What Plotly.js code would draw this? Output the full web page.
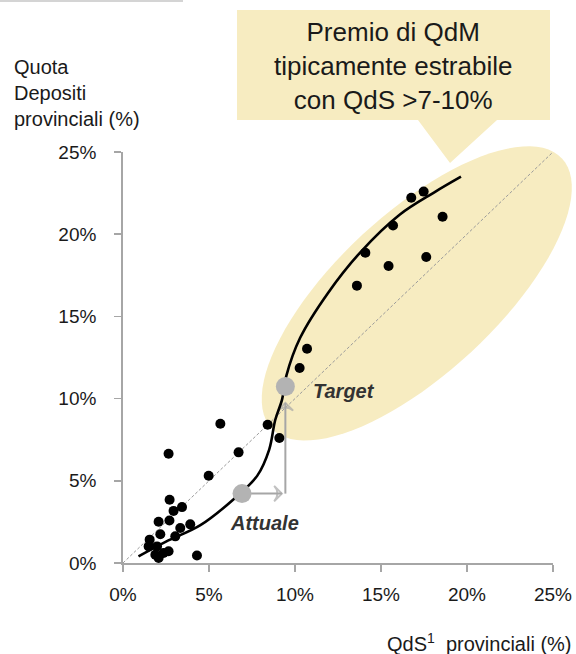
<!DOCTYPE html>
<html>
<head>
<meta charset="utf-8">
<script src="https://cdn.plot.ly/plotly-3.0.1.min.js"></script>
<style>
  html, body { margin: 0; padding: 0; background: #ffffff; }
  #chart { width: 576px; height: 654px; }
</style>
</head>
<body>
<div id="chart"></div>
<script>
// Province scatter: market share of deposits vs branch share (QdS), in %
const provinceQdS = [
  16.76, 17.48, 18.58, 15.70, 14.09, 15.44, 17.63, 13.60, 10.70, 10.27,
  5.66, 8.41, 9.09, 6.72, 4.98, 2.65, 4.30,
  2.71, 3.43, 2.94, 2.07, 2.70, 3.91, 3.33, 3.04, 1.55, 2.17, 1.49, 1.98, 1.88, 2.36, 2.65, 2.07
];
const provinceDeposits = [
  22.22, 22.59, 21.06, 20.53, 18.87, 18.07, 18.61, 16.87, 13.03, 11.86,
  8.47, 8.41, 7.60, 6.73, 5.31, 6.65, 0.46,
  3.85, 3.40, 3.17, 2.51, 2.58, 2.35, 2.13, 1.62, 1.42, 1.75, 1.01, 1.01, 0.50, 0.61, 0.71, 0.30
];

// Fitted S-shaped trend
const trendX = [0.9, 2.5, 4.5, 6.4, 7.8, 8.5, 8.85, 9.25, 9.5, 10.3, 11.9, 13.8, 16.1, 18.1, 19.65];
const trendY = [0.4, 1.3, 2.3, 3.85, 5.3, 6.9, 8.7, 9.95, 11.4, 13.7, 16.4, 18.9, 21.2, 22.55, 23.5];

// Parity line (QdM = QdS)
const parityX = [0, 25];
const parityY = [0, 25];

// Current and target positions
const attualeX = [6.92];
const attualeY = [4.22];
const targetX = [9.44];
const targetY = [10.74];

const tickValues = [0, 5, 10, 15, 20, 25];
const tickLabels = ['0%', '5%', '10%', '15%', '20%', '25%'];

const calloutLines = ['Premio di QdM', 'tipicamente estrabile', 'con QdS >7-10%'];
const yTitleLines = ['Quota', 'Depositi', 'provinciali (%)'];
const xTitleText = 'QdS<sup>1</sup>  provinciali (%)';

// ---- layout geometry (pixels) ----
const W = 576, H = 654;
const M = { l: 123, r: 23, t: 152, b: 91 };
const plotW = W - M.l - M.r;
const plotH = H - M.t - M.b;
const px2x = p => (p - M.l) / plotW;           // pixel -> paper x
const px2y = p => (H - M.b - p) / plotH;       // pixel -> paper y
const FONT = 'Liberation Sans, Arial, sans-serif';
const YELLOW = '#f7ecc1';
const GREY = '#a6a6a6';

// Highlight ellipse around the high-share provinces (data units, drawn in paper space)
const ell = { cx: 17.08, cy: 16.40, ax: 8.44, ay: 8.21, bx: 3.17, by: -3.56 };
let ellPath = '';
for (let i = 0; i <= 96; i++) {
  const t = 2 * Math.PI * i / 96;
  const ex = ell.cx + ell.ax * Math.cos(t) + ell.bx * Math.sin(t);
  const ey = ell.cy + ell.ay * Math.cos(t) + ell.by * Math.sin(t);
  ellPath += (i === 0 ? 'M' : 'L') + (ex / 25).toFixed(4) + ',' + (ey / 25).toFixed(4);
}
ellPath += 'Z';

// Callout box with pointer
const cb = [[237, 10], [550, 10], [550, 120], [497, 120], [450, 163], [418, 120], [237, 120]];
const calloutPath = cb.map((p, i) => (i === 0 ? 'M' : 'L') + px2x(p[0]).toFixed(4) + ',' + px2y(p[1]).toFixed(4)).join('') + 'Z';

// Arrow legs from the current position to the target
const arrowStyle = {
  type: 'scatter', mode: 'lines+markers', hoverinfo: 'skip',
  line: { color: GREY, width: 2 },
  marker: {
    symbol: ['circle', 'arrow-wide-open'], size: [0, 11], angleref: 'previous',
    color: GREY, line: { color: GREY, width: 2 }
  }
};
const legH = Object.assign({}, arrowStyle, {
  x: [attualeX[0], targetX[0] - 0.2], y: [attualeY[0], attualeY[0]]
});
const legV = Object.assign({}, arrowStyle, {
  x: [targetX[0], targetX[0]], y: [attualeY[0], targetY[0] - 1.0]
});

const traces = [
  {
    x: parityX, y: parityY, type: 'scatter', mode: 'lines',
    line: { color: '#9a9a9a', width: 1, dash: '3px,2px' },
    hoverinfo: 'skip'
  },
  legH, legV,
  {
    x: trendX, y: trendY, type: 'scatter', mode: 'lines',
    line: { color: '#000000', width: 2.6, shape: 'spline', smoothing: 1 },
    hoverinfo: 'skip'
  },
  {
    x: provinceQdS, y: provinceDeposits, type: 'scatter', mode: 'markers',
    marker: { color: '#000000', size: 10 },
    cliponaxis: false
  },
  {
    x: attualeX.concat(targetX), y: attualeY.concat(targetY), type: 'scatter', mode: 'markers',
    marker: { color: '#b3b3b3', size: 19 }
  }
];

const axisCommon = {
  range: [0, 25],
  tickvals: tickValues,
  ticktext: tickLabels,
  ticks: 'outside',
  ticklen: 7,
  tickwidth: 1.5,
  tickcolor: GREY,
  showline: true,
  linecolor: GREY,
  linewidth: 1.8,
  showgrid: false,
  zeroline: false,
  tickfont: { family: FONT, size: 19, color: '#1a1a1a' },
  fixedrange: true
};

const layout = {
  width: W, height: H,
  margin: M,
  paper_bgcolor: '#ffffff',
  plot_bgcolor: 'rgba(0,0,0,0)',
  showlegend: false,
  xaxis: Object.assign({}, axisCommon, { ticklabelstandoff: 6 }),
  yaxis: Object.assign({}, axisCommon, { ticklabelstandoff: 14 }),
  shapes: [
    { type: 'path', xref: 'paper', yref: 'paper', path: ellPath, fillcolor: YELLOW, line: { width: 0 }, layer: 'below' },
    { type: 'path', xref: 'paper', yref: 'paper', path: calloutPath, fillcolor: YELLOW, line: { width: 0 }, layer: 'below' },
    { type: 'line', xref: 'paper', yref: 'paper', x0: px2x(0), x1: px2x(183), y0: px2y(1), y1: px2y(1), line: { color: '#d4d4d4', width: 2 } }
  ],
  annotations: [
    {
      xref: 'paper', yref: 'paper', x: px2x(393), y: px2y(66), xanchor: 'center', yanchor: 'middle',
      text: calloutLines.join('<br>'), showarrow: false, align: 'center',
      font: { family: FONT, size: 26, color: '#1a1a1a' }
    },
    {
      xref: 'paper', yref: 'paper', x: px2x(12), y: px2y(54), xanchor: 'left', yanchor: 'top',
      text: yTitleLines.join('<br>'), showarrow: false, align: 'left',
      font: { family: FONT, size: 20, color: '#1a1a1a' }
    },
    {
      xref: 'paper', yref: 'paper', x: px2x(574), y: px2y(642), xanchor: 'right', yanchor: 'middle',
      text: xTitleText, showarrow: false, align: 'right',
      font: { family: FONT, size: 20, color: '#1a1a1a' }
    },
    {
      xref: 'x', yref: 'y', x: targetX[0] + 1.5, y: targetY[0] - 0.3, xanchor: 'left', yanchor: 'middle',
      text: '<b><i>Target</i></b>', showarrow: false,
      font: { family: FONT, size: 20, color: '#333333' }
    },
    {
      xref: 'x', yref: 'y', x: attualeX[0] - 0.8, y: attualeY[0] - 1.8, xanchor: 'left', yanchor: 'middle',
      text: '<b><i>Attuale</i></b>', showarrow: false,
      font: { family: FONT, size: 20, color: '#333333' }
    }
  ]
};

Plotly.newPlot('chart', traces, layout, { staticPlot: true, displayModeBar: false });
</script>
</body>
</html>
